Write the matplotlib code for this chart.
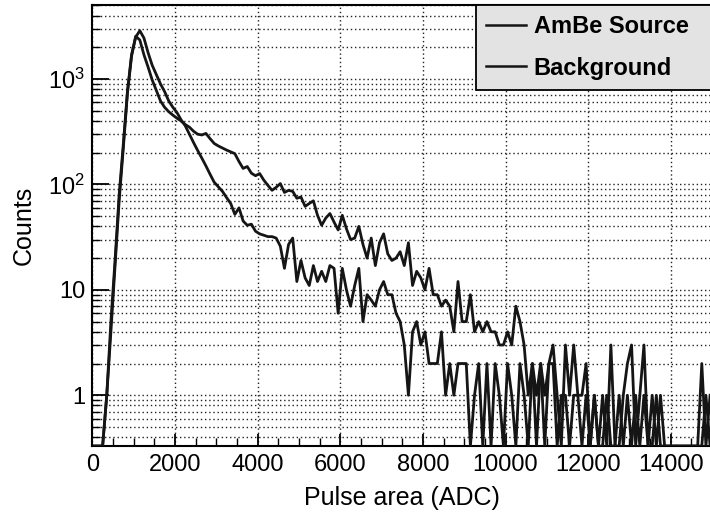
import matplotlib
matplotlib.use("Agg")
import matplotlib.pyplot as plt
import numpy as np
from matplotlib.lines import Line2D
from matplotlib.ticker import FixedLocator, FixedFormatter, LogLocator, MultipleLocator, NullFormatter

plt.rcParams['font.family'] = ['Liberation Sans', 'DejaVu Sans']
plt.rcParams['mathtext.fontset'] = 'custom'
plt.rcParams['mathtext.rm'] = 'Liberation Sans'
plt.rcParams['mathtext.it'] = 'Liberation Sans:italic'

# pulse area histograms, 100 ADC bins (bin centres 50 ... 14950)
bin_width = 100
n_bins = 150

ambe_counts = [
    0, 0, 0, 1, 4, 17, 70, 220, 730, 1650,
    2550, 2350, 1700, 1300, 980, 780, 620, 540, 490, 455,
    425, 400, 370, 350, 320, 300, 295, 305, 272, 245,
    232, 222, 212, 204, 196, 165, 142, 148, 128, 121,
    127, 110, 98, 88, 94, 102, 84, 88, 86, 74,
    76, 62, 66, 70, 51, 41, 48, 53, 44, 37,
    51, 38, 30, 31, 40, 27, 20, 31, 17, 28,
    34, 22, 19, 20, 23, 17, 28, 11, 15, 13,
    10, 16, 9, 9, 7, 8, 7, 4, 12, 5,
    5, 9, 4, 5, 4, 5, 4, 4, 3, 3,
    4, 3, 7, 5, 3, 1, 2, 0, 2, 1,
    2, 3, 1, 0, 3, 1, 3, 1, 1, 2,
    0, 1, 0, 1, 0, 3, 0, 0, 1, 2,
    3, 0, 1, 3, 0, 1, 0, 1, 0, 0,
    0, 0, 0, 0, 0, 0, 0, 2, 0, 1,
]

background_counts = [
    0, 0, 0, 1, 5, 19, 80, 240, 760, 1700,
    2500, 2880, 2450, 1780, 1350, 1100, 900, 760, 620, 540,
    480, 410, 360, 300, 250, 210, 178, 150, 125, 105,
    95, 86, 75, 66, 52, 60, 45, 41, 42, 36,
    34, 33, 32, 32, 31, 26, 16, 27, 31, 12,
    19, 13, 11, 17, 12, 15, 12, 17, 16, 6,
    16, 10, 7, 11, 16, 5, 9, 8, 7, 10,
    12, 9, 9, 6, 5, 3, 1, 4, 5, 3,
    4, 2, 2, 2, 4, 1, 2, 1, 2, 2,
    2, 0, 1, 2, 0, 2, 0, 2, 1, 0,
    2, 1, 0, 2, 1, 0, 2, 1, 2, 0,
    2, 2, 0, 1, 1, 0, 1, 1, 0, 1,
    0, 1, 0, 0, 1, 0, 0, 1, 0, 1,
    0, 1, 0, 1, 0, 0, 1, 0, 0, 0,
    0, 0, 0, 0, 0, 0, 0, 0, 1, 0,
]

series_labels = ["AmBe Source", "Background"]
x_ticks = [0, 2000, 4000, 6000, 8000, 10000, 12000, 14000]
y_ticks = [1, 10, 100, 1000]
y_tick_labels = ["1", "10", "$10^{2}$", "$10^{3}$"]

ymin, ymax = 0.33, 5000
centers = np.arange(n_bins) * bin_width + bin_width / 2

fig = plt.figure(figsize=(7.1, 5.2), dpi=100)
ax = fig.add_axes([0.130, 0.1423, 0.873, 0.8473])

line_col = "#151515"
for counts in (ambe_counts, background_counts):
    # empty bins are drawn down to the frame floor
    y = np.clip(np.array(counts, dtype=float), ymin, None)
    ax.plot(centers, y, color=line_col, lw=2.0, zorder=3)

ax.set_yscale("log")
ax.set_xlim(0, 15000)
ax.set_ylim(ymin, ymax)

ax.xaxis.set_major_locator(FixedLocator(x_ticks))
ax.xaxis.set_minor_locator(MultipleLocator(500))
ax.yaxis.set_major_locator(FixedLocator(y_ticks))
ax.yaxis.set_major_formatter(FixedFormatter(y_tick_labels))
ax.yaxis.set_minor_locator(LogLocator(base=10, subs=np.arange(2, 10), numticks=20))
ax.yaxis.set_minor_formatter(NullFormatter())

grid_kw = dict(color="#222222", lw=1.0, linestyle=(0, (1, 2)))
ax.grid(which="major", axis="x", **grid_kw)
ax.grid(which="both", axis="y", **grid_kw)
ax.set_axisbelow(True)

ax.tick_params(which="both", direction="in", top=False, right=False, labelsize=17, color="k")
ax.tick_params(axis="y", which="major", length=12, width=1.3, pad=5)
ax.tick_params(axis="y", which="minor", length=6, width=1.0)
ax.tick_params(axis="x", which="major", length=9, width=1.3, pad=6)
ax.tick_params(axis="x", which="minor", length=5.5, width=1.0)

for side in ("left", "bottom", "top"):
    ax.spines[side].set_linewidth(1.5)
ax.spines["right"].set_visible(False)

ax.set_xlabel("Pulse area (ADC)", fontsize=18, labelpad=7)
ax.set_ylabel("Counts", fontsize=18, labelpad=9)

handles = [Line2D([], [], color=line_col, lw=1.8) for _ in series_labels]
leg = ax.legend(handles, series_labels, loc="upper left",
                bbox_to_anchor=(0.619, 0.0, 0.39, 1.0), mode="expand",
                prop={"weight": "bold", "size": 17}, fancybox=False,
                facecolor="#e3e3e3", edgecolor="k", framealpha=1,
                borderpad=0.42, borderaxespad=0, handlelength=1.7,
                handletextpad=0.32, labelspacing=0.78)
leg.get_frame().set_linewidth(1.3)
leg.set_zorder(5)

fig.savefig("out.png", dpi=100)
